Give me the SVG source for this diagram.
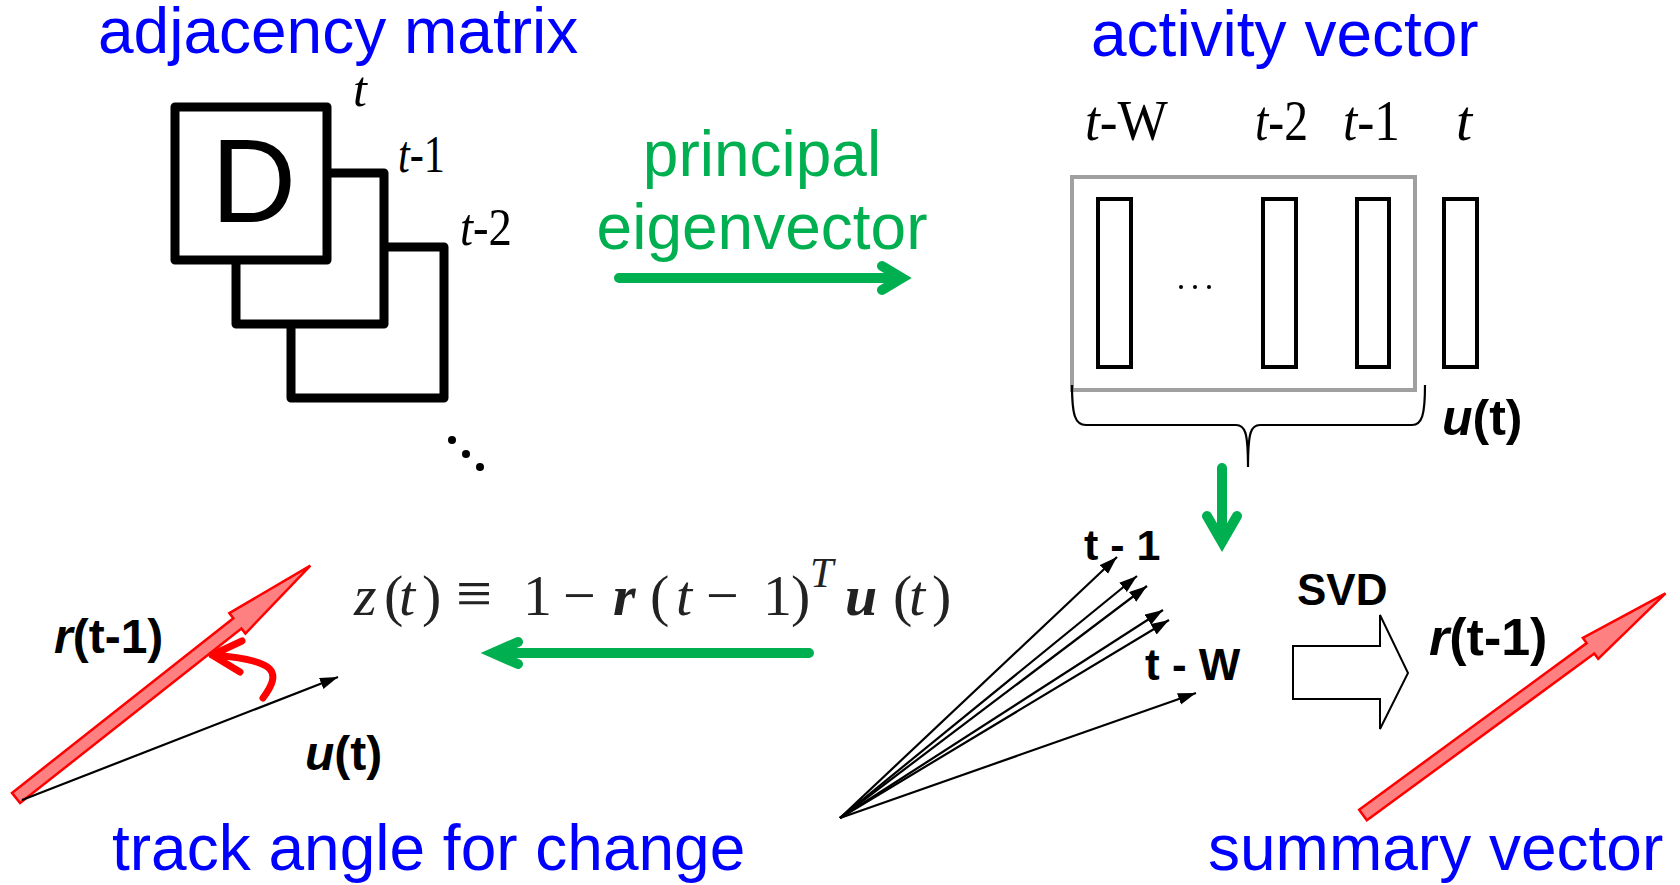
<svg xmlns="http://www.w3.org/2000/svg" width="1680" height="885" viewBox="0 0 1680 885">
<style>
.title{font-family:"Liberation Sans",Arial,sans-serif;font-size:64px;fill:#0000ff}
.green{font-family:"Liberation Sans",Arial,sans-serif;font-size:64px;fill:#00b050}
.lbl{font-family:"Liberation Sans",Arial,sans-serif;font-weight:bold;fill:#000}
.tm{font-family:"Liberation Serif","Times New Roman",serif;fill:#000}
.it{font-style:italic}
.frame{fill:none;stroke:#000;stroke-width:9;stroke-linejoin:round}
.bar{fill:none;stroke:#000;stroke-width:4}
.garrow{fill:none;stroke:#00b050;stroke-width:10;stroke-linecap:round;stroke-linejoin:miter}
.vec{stroke:#000;stroke-width:2.2;fill:none;marker-end:url(#ah)}
.big{fill:#ff8080;stroke:#ff0000;stroke-width:2.5;stroke-linejoin:miter}
.fx{font-family:"Liberation Serif","DejaVu Serif",serif;font-size:58px;fill:#222}
</style>
<defs>
<marker id="ah" markerUnits="userSpaceOnUse" markerWidth="20" markerHeight="14" refX="18" refY="6" orient="auto">
<path d="M0,0 L18,6 L0,12 z" fill="#000"/>
</marker>
<polygon id="bigarrow" points="0,-6.5 282,-6.5 282,-13 375,0 282,13 282,6.5 0,6.5"/>
</defs>

<g id="title-adjacency"><text class="title" x="98" y="53">adjacency matrix</text></g>
<g id="title-activity"><text class="title" x="1091" y="56">activity vector</text></g>
<g id="label-eigen">
<text class="green" x="762" y="176" text-anchor="middle">principal</text>
<text class="green" x="762" y="249" text-anchor="middle">eigenvector</text>
</g>
<g id="title-track"><text class="title" x="112" y="870">track angle for change</text></g>
<g id="title-summary"><text class="title" x="1208" y="870">summary vector</text></g>

<g id="adjacency-stack">
<rect class="frame" x="291" y="247" width="153" height="151" style="fill:#fff"/>
<rect class="frame" x="236" y="173" width="148" height="151" style="fill:#fff"/>
<rect class="frame" x="175" y="107" width="152" height="153" style="fill:#fff"/>
<text x="211" y="222" font-family="'Liberation Sans',Arial,sans-serif" font-size="118" fill="#000">D</text>
<text class="tm it" x="353" y="106" font-size="50">t</text>
<text class="tm" x="398" y="172" font-size="52" textLength="47" lengthAdjust="spacingAndGlyphs"><tspan class="it">t</tspan>-1</text>
<text class="tm" x="460" y="245" font-size="52" textLength="52" lengthAdjust="spacingAndGlyphs"><tspan class="it">t</tspan>-2</text>
<circle cx="452" cy="440" r="4"/>
<circle cx="466" cy="454" r="4"/>
<circle cx="480" cy="467" r="4"/>
</g>

<g id="activity-vector">
<rect x="1072" y="177" width="343" height="213" fill="none" stroke="#a0a0a0" stroke-width="4"/>
<rect class="bar" x="1098" y="199" width="33" height="168"/>
<rect class="bar" x="1263" y="199" width="33" height="168"/>
<rect class="bar" x="1357" y="199" width="32" height="168"/>
<rect class="bar" x="1444" y="199" width="33" height="168"/>
<circle cx="1181" cy="287" r="2"/>
<circle cx="1195" cy="287" r="2"/>
<circle cx="1209" cy="287" r="2"/>
<text class="tm" x="1085" y="140" font-size="58" textLength="83" lengthAdjust="spacingAndGlyphs"><tspan class="it">t</tspan>-W</text>
<text class="tm" x="1255" y="140" font-size="58" textLength="53" lengthAdjust="spacingAndGlyphs"><tspan class="it">t</tspan>-2</text>
<text class="tm" x="1343" y="140" font-size="58" textLength="57" lengthAdjust="spacingAndGlyphs"><tspan class="it">t</tspan>-1</text>
<text class="tm it" x="1456" y="140" font-size="58">t</text>
<path d="M1072,385 C1072,415 1075,425 1086,425 L1236,425 C1245,425 1248,432 1248,467 C1248,432 1251,425 1260,425 L1412,425 C1422,425 1425,415 1425,385" fill="none" stroke="#000" stroke-width="2.2"/>
<text class="lbl" x="1442" y="435" font-size="50"><tspan font-style="italic">u</tspan>(t)</text>
</g>

<g id="formula">
<text class="fx" y="615">
<tspan x="354" font-style="italic">z</tspan><tspan x="384">(</tspan><tspan x="399" font-style="italic">t</tspan><tspan x="422">)</tspan><tspan x="456" font-size="64">≡</tspan><tspan x="523">1</tspan><tspan x="563">−</tspan><tspan x="613" font-style="italic" font-weight="bold">r</tspan><tspan x="650">(</tspan><tspan x="676" font-style="italic">t</tspan><tspan x="706">−</tspan><tspan x="763">1</tspan><tspan x="791">)</tspan><tspan x="810" y="587" font-size="42" font-style="italic">T</tspan><tspan x="845" y="615" font-style="italic" font-weight="bold">u</tspan><tspan x="893">(</tspan><tspan x="909" font-style="italic">t</tspan><tspan x="932">)</tspan>
</text>
</g>

<g id="angle-diagram">
<use href="#bigarrow" class="big" transform="translate(16,798) rotate(-38.28)"/>
<line class="vec" x1="22" y1="800" x2="338" y2="677"/>
<path d="M263,698 C282,672 278,660 212,655 M242,641 L212,655 L240,672" fill="none" stroke="#ff0000" stroke-width="7" stroke-linecap="round" stroke-linejoin="round"/>
<text class="lbl" x="54" y="653" font-size="48"><tspan font-style="italic">r</tspan>(t-1)</text>
<text class="lbl" x="305" y="770" font-size="48"><tspan font-style="italic">u</tspan>(t)</text>
</g>

<g id="window-vectors">
<line class="vec" x1="840" y1="818" x2="1117" y2="557"/>
<line class="vec" x1="840" y1="818" x2="1137" y2="576"/>
<line class="vec" x1="840" y1="818" x2="1147" y2="586"/>
<line class="vec" x1="840" y1="818" x2="1163" y2="610"/>
<line class="vec" x1="840" y1="818" x2="1169" y2="620"/>
<line class="vec" x1="840" y1="818" x2="1196" y2="693"/>
<text class="lbl" x="1084" y="560" font-size="43">t - 1</text>
<text class="lbl" x="1145" y="680" font-size="44">t - W</text>
</g>

<g id="svd">
<polygon points="1293,646 1380,646 1380,615 1408,673 1380,729 1380,699 1293,699" fill="#fff" stroke="#000" stroke-width="2"/>
<text class="lbl" x="1297" y="605" font-size="44">SVD</text>
</g>

<g id="summary-vector">
<use href="#bigarrow" class="big" transform="translate(1363,815) rotate(-36.22)"/>
<text class="lbl" x="1429" y="655" font-size="52"><tspan font-style="italic">r</tspan>(t-1)</text>
</g>

<g id="connectors">
<path class="garrow" d="M619,278 L898,278 M882,266 L902,278 L882,290"/>
<path class="garrow" d="M1222,468 L1222,538 M1207,516 L1222,542 L1237,516"/>
<path class="garrow" d="M809,653 L497,653 M518,642 L493,653 L518,664"/>
</g>
</svg>
